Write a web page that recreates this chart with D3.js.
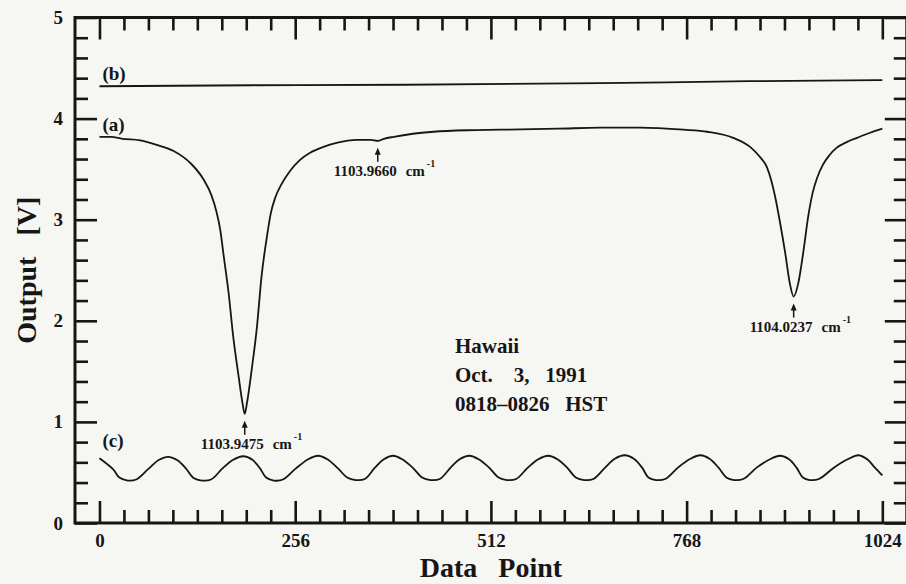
<!DOCTYPE html>
<html>
<head>
<meta charset="utf-8">
<script src="https://cdn.jsdelivr.net/npm/d3@7"></script>
<style>
  body { margin: 0; background: #f6f6f3; }
  svg { display: block; }
  text { font-family: "Liberation Serif", "DejaVu Serif", "Times New Roman", serif; font-weight: bold; fill: #161616; }
  .tick text { font-size: 19px; }
</style>
</head>
<body>
<script>
// curve (a): detector output, [data point, volts]
var curveA = [
  [0, 3.82], [15, 3.82], [30, 3.80], [53, 3.785], [75, 3.74], [97, 3.68],
  [119, 3.56], [136, 3.40], [146, 3.25], [153, 3.08], [158, 2.90], [162, 2.67],
  [169, 2.27], [175, 1.84], [182, 1.45], [187, 1.19], [190, 1.08], [193, 1.19],
  [199, 1.51], [206, 1.94], [212, 2.44], [219, 2.83], [224, 3.06], [230, 3.22],
  [238, 3.35], [249, 3.48], [262, 3.59], [275, 3.66], [293, 3.72], [310, 3.76],
  [337, 3.79], [355, 3.79], [364, 3.78], [372, 3.80], [385, 3.82], [410, 3.85],
  [437, 3.87], [480, 3.885], [524, 3.89], [600, 3.90], [655, 3.91], [707, 3.91],
  [764, 3.89], [795, 3.87], [829, 3.81], [851, 3.72], [864, 3.62], [873, 3.52],
  [879, 3.38], [884, 3.22], [890, 2.98], [897, 2.67], [903, 2.37], [908, 2.24],
  [914, 2.37], [921, 2.70], [927, 3.03], [933, 3.27], [939, 3.42], [946, 3.54],
  [955, 3.64], [964, 3.71], [978, 3.77], [991, 3.81], [1008, 3.86], [1024, 3.90]
];

// curve (b): reference level
var curveB = [
  [0, 4.32], [200, 4.33], [400, 4.335], [655, 4.35], [850, 4.37], [1024, 4.38]
];

// curve (c): etalon fringes
var curveC = [
  [0, 0.64], [18, 0.53], [26, 0.45], [37, 0.42], [48, 0.43], [64, 0.535], [78, 0.625], [90, 0.655],
  [102, 0.62], [113, 0.54], [123, 0.445], [134, 0.42], [146, 0.43], [161, 0.54], [175, 0.625], [188, 0.66],
  [200, 0.625], [210, 0.54], [218, 0.45], [228, 0.42], [240, 0.43], [257, 0.54], [273, 0.63], [286, 0.665],
  [298, 0.63], [312, 0.54], [324, 0.45], [335, 0.425], [347, 0.435], [360, 0.545], [372, 0.63], [384, 0.665],
  [396, 0.63], [410, 0.545], [422, 0.45], [433, 0.425], [445, 0.435], [459, 0.545], [471, 0.63], [484, 0.665],
  [496, 0.63], [510, 0.545], [522, 0.45], [533, 0.425], [545, 0.435], [560, 0.545], [574, 0.63], [587, 0.665],
  [599, 0.63], [612, 0.545], [623, 0.45], [634, 0.425], [646, 0.435], [661, 0.545], [674, 0.635], [687, 0.67],
  [699, 0.635], [710, 0.545], [718, 0.45], [728, 0.425], [740, 0.435], [757, 0.55], [773, 0.635], [786, 0.67],
  [798, 0.635], [810, 0.545], [820, 0.45], [830, 0.425], [842, 0.435], [860, 0.55], [877, 0.63], [890, 0.665],
  [902, 0.63], [912, 0.545], [920, 0.45], [929, 0.425], [941, 0.435], [961, 0.55], [980, 0.635], [993, 0.67],
  [1005, 0.625], [1014, 0.55], [1024, 0.47]
];

// tick values
var xMajor = [0, 256, 512, 768, 1024];
var xMinor = [32, 64, 96, 128, 160, 192, 224, 288, 320, 352, 384, 416, 448, 480,
              544, 576, 608, 640, 672, 704, 736, 800, 832, 864, 896, 928, 960, 992];
var yMajor = [0, 1, 2, 3, 4, 5];
var yMinor = [0.2, 0.4, 0.6, 0.8, 1.2, 1.4, 1.6, 1.8, 2.2, 2.4, 2.6, 2.8,
              3.2, 3.4, 3.6, 3.8, 4.2, 4.4, 4.6, 4.8];

// line annotations
var peakPoints = [190, 364, 908];
var peakValues = [1.08, 3.78, 2.24];
var peakLabels = ["1103.9475", "1103.9660", "1104.0237"];
var infoLines = ["Hawaii", "Oct.    3,   1991", "0818\u20130826   HST"];

// set the dimensions and margins of the graph
var margin = {top: 17.5, left: 75},
    width = 831.8,
    height = 505.5;

var x = d3.scaleLinear().domain([-32, 1056]).range([0, width]);
var y = d3.scaleLinear().domain([0, 5]).range([height, 0]);

var svg = d3.select("body")
    .append("svg")
    .attr("width", 906)
    .attr("height", 584)
    .append("g")
    .attr("transform", "translate(" + margin.left + "," + margin.top + ")")
    .style("color", "#161616");

function styleAxis(g) {
  g.select(".domain").remove();
  g.selectAll(".tick line").attr("stroke-width", 2.6);
}

var fmt = d3.format("d");

// bottom axis
svg.append("g").attr("transform", "translate(0," + height + ")")
    .call(d3.axisBottom(x).tickValues(xMajor).tickSize(-22).tickPadding(11).tickFormat(fmt))
    .call(styleAxis);
svg.append("g").attr("transform", "translate(0," + height + ")")
    .call(d3.axisBottom(x).tickValues(xMinor).tickSize(-13).tickFormat(""))
    .call(styleAxis);
// top axis
svg.append("g")
    .call(d3.axisTop(x).tickValues(xMajor).tickSize(-22).tickFormat(""))
    .call(styleAxis);
svg.append("g")
    .call(d3.axisTop(x).tickValues(xMinor).tickSize(-13).tickFormat(""))
    .call(styleAxis);
// left axis
svg.append("g")
    .call(d3.axisLeft(y).tickValues(yMajor).tickSize(-22).tickPadding(12).tickFormat(fmt))
    .call(styleAxis);
svg.append("g")
    .call(d3.axisLeft(y).tickValues(yMinor).tickSize(-13).tickFormat(""))
    .call(styleAxis);
// right axis
svg.append("g").attr("transform", "translate(" + width + ",0)")
    .call(d3.axisRight(y).tickValues(yMajor).tickSize(-22).tickFormat(""))
    .call(styleAxis);
svg.append("g").attr("transform", "translate(" + width + ",0)")
    .call(d3.axisRight(y).tickValues(yMinor).tickSize(-13).tickFormat(""))
    .call(styleAxis);

// frame
svg.append("rect")
    .attr("width", width)
    .attr("height", height)
    .attr("fill", "none")
    .attr("stroke", "#161616")
    .attr("stroke-width", 3);

// curves
var smooth = d3.line()
    .x(function(d) { return x(d[0]); })
    .y(function(d) { return y(d[1]); })
    .curve(d3.curveMonotoneX);

var wavy = d3.line()
    .x(function(d) { return x(d[0]); })
    .y(function(d) { return y(d[1]); })
    .curve(d3.curveCatmullRom);

[[curveA, smooth], [curveB, smooth], [curveC, wavy]].forEach(function(c) {
  svg.append("path")
      .datum(c[0])
      .attr("d", c[1])
      .attr("fill", "none")
      .attr("stroke", "#161616")
      .attr("stroke-width", 1.8);
});

// curve labels
var curveLabels = [["(b)", curveB[0][1]], ["(a)", curveA[0][1]], ["(c)", curveC[0][1]]];
curveLabels.forEach(function(l, i) {
  svg.append("text")
      .attr("x", x(0) + 3)
      .attr("y", y(l[1]) - (i == 2 ? 11 : 6))
      .style("font-size", "19px")
      .text(l[0]);
});

// peak arrows and wavenumbers
peakPoints.forEach(function(p, i) {
  var px = x(p), py = y(peakValues[i]) + 7;
  svg.append("line")
      .attr("x1", px).attr("x2", px)
      .attr("y1", py + 3).attr("y2", py + 14)
      .attr("stroke", "#161616")
      .attr("stroke-width", 1.5);
  svg.append("path")
      .attr("d", "M" + px + "," + py + "l-3,7h6z")
      .attr("fill", "#161616");
  var t = svg.append("text")
      .attr("x", px - 44)
      .attr("y", py + 28)
      .style("font-size", "15px")
      .text(peakLabels[i]);
  t.append("tspan").attr("dx", 9).text("cm");
  t.append("tspan").attr("dx", 2).attr("dy", -9).style("font-size", "10px").text("-1");
});

// site / date block
infoLines.forEach(function(s, i) {
  svg.append("text")
      .attr("x", x(465))
      .attr("y", y(1.68) + i * 29)
      .style("font-size", "21px")
      .style("white-space", "pre")
      .text(s);
});

// text label for the x axis
svg.append("text")
    .attr("x", width / 2)
    .attr("y", height + 54)
    .attr("text-anchor", "middle")
    .style("font-size", "28px")
    .style("white-space", "pre")
    .text("Data   Point");

// text label for y axis
svg.append("text")
    .attr("transform", "rotate(-90)")
    .attr("x", -height / 2)
    .attr("y", 36 - margin.left)
    .attr("text-anchor", "middle")
    .style("font-size", "28px")
    .style("white-space", "pre")
    .text("Output   [V]");
</script>
</body>
</html>
